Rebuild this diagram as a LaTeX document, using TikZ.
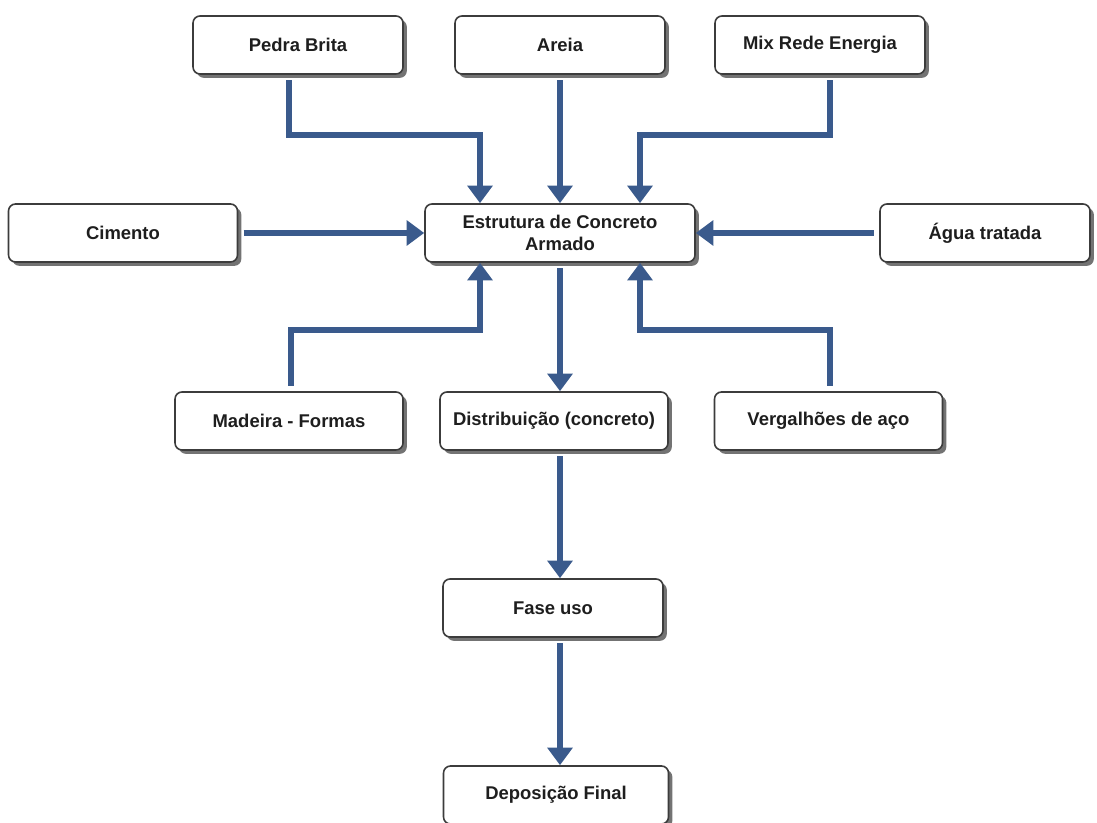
\documentclass[tikz,border=0pt]{standalone}
\usepackage{fontspec}
\setmainfont{Liberation Sans}
\usepackage{xcolor}
\usepackage{tikz}
\usetikzlibrary{arrows.meta,shadows,calc}
\definecolor{steel}{HTML}{3A5A8C}
\definecolor{edge}{HTML}{3C3C3C}
\definecolor{ink}{HTML}{1E1E1E}

\begin{document}
\begin{tikzpicture}[
      box/.style={draw=edge, fill=white, line width=0.9pt, rounded corners=4pt,
                  minimum width=4.2cm, minimum height=1.16cm, align=center,
                  font=\fontsize{10.5}{12.5}\selectfont\bfseries, text=ink,
                  drop shadow={shadow xshift=2.2pt, shadow yshift=-2.2pt,
                               fill=black!55, opacity=1}},
      flow/.style={draw=steel, line width=3pt, shorten <=3pt,
                   -{Triangle[width=14pt, length=10pt]}},
    ]
      \useasboundingbox (0,0) rectangle (21.94,16.46);
      \node[box] (pedra) at (5.96, 15.56) {Pedra Brita};
      \node[box] (areia) at (11.2, 15.56) {Areia};
      \node[box] (mix) at (16.4, 15.56) {Mix Rede Energia};
      \node[box, minimum width=4.58cm] (cimento) at (2.46, 11.8) {Cimento};
      \node[box, minimum width=5.4cm] (estrutura) at (11.2, 11.8)
        {Estrutura de Concreto\\Armado};
      \node[box] (agua) at (19.7, 11.8) {Água tratada};
      \node[box, minimum width=4.56cm] (madeira) at (5.78, 8.04) {Madeira - Formas};
      \node[box, minimum width=4.56cm] (distrib) at (11.08, 8.04) {Distribuição (concreto)};
      \node[box, minimum width=4.56cm] (vergalhoes) at (16.57, 8.04) {Vergalhões de aço};
      \node[box, minimum width=4.4cm] (fase) at (11.06, 4.3) {Fase uso};
      \node[box, minimum width=4.5cm] (deposicao) at (11.12, 0.56) {Deposição Final};

      \draw[flow] ([xshift=-0.18cm]pedra.south) |- (7.6, 13.76)
        -| ([xshift=-1.6cm]estrutura.north);
      \draw[flow] (areia.south) -- (estrutura.north);
      \draw[flow] ([xshift=0.2cm]mix.south) |- (14.4, 13.76)
        -| ([xshift=1.6cm]estrutura.north);
      \draw[flow] (cimento.east) -- (cimento.east -| estrutura.west);
      \draw[flow] (agua.west) -- (agua.west -| estrutura.east);
      \draw[flow] ([xshift=0.04cm]madeira.north) |- (7.6, 9.86)
        -| ([xshift=-1.6cm]estrutura.south);
      \draw[flow] ([xshift=0.03cm]vergalhoes.north) |- (14.4, 9.86)
        -| ([xshift=1.6cm]estrutura.south);
      \draw[flow] (estrutura.south) -- (estrutura.south |- distrib.north);
      \draw[flow] (estrutura.south |- distrib.south) -- (estrutura.south |- fase.north);
      \draw[flow] (estrutura.south |- fase.south) -- (estrutura.south |- deposicao.north);
    \end{tikzpicture}
\end{document}
